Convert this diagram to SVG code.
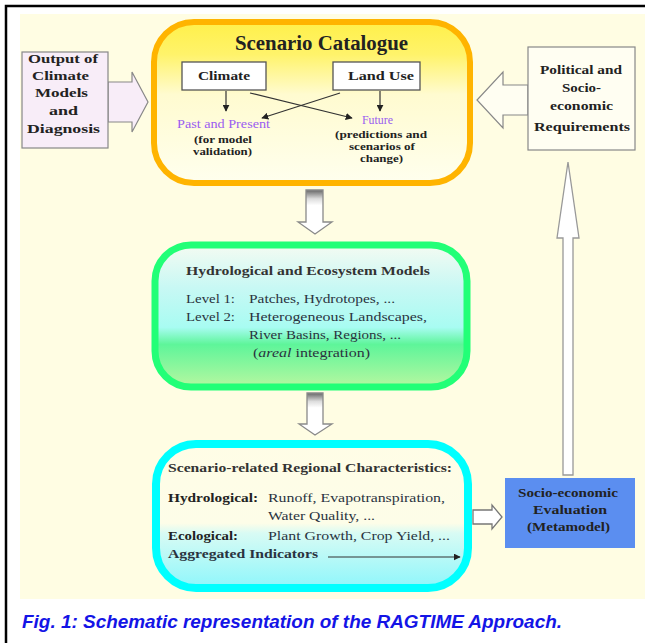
<svg xmlns="http://www.w3.org/2000/svg" width="645" height="643" viewBox="0 0 645 643">
<defs>
<style>
.s{font-family:"Liberation Serif","DejaVu Serif",serif;}
.b{font-weight:bold;}
.m{font-size:13px;fill:#2a3340;}
.w{font-size:12.5px;font-weight:bold;fill:#222;}
.ws{font-size:10.5px;font-weight:bold;fill:#222;}
.p{font-size:12px;fill:#9a5cf0;}
.ln{stroke:#333;stroke-width:1.2;fill:none;}
.box{fill:#fff;stroke:#555;stroke-width:1.3;}
.darr{stroke:#8a8a8a;stroke-width:1.3;}
</style>
<linearGradient id="gY" x1="0" y1="0" x2="0" y2="1">
<stop offset="0" stop-color="#fff04a"/>
<stop offset="0.2" stop-color="#fff36a"/>
<stop offset="0.45" stop-color="#fffbd0"/>
<stop offset="1" stop-color="#ffffee"/>
</linearGradient>
<linearGradient id="gG" x1="0" y1="0" x2="0" y2="1">
<stop offset="0" stop-color="#f4fbf2"/>
<stop offset="0.3" stop-color="#c8f8f4"/>
<stop offset="0.58" stop-color="#a8fcf2"/>
<stop offset="0.7" stop-color="#5ef59a"/>
<stop offset="1" stop-color="#b6f7a0"/>
</linearGradient>
<linearGradient id="gC" x1="0" y1="0" x2="0" y2="1">
<stop offset="0" stop-color="#fffde6"/>
<stop offset="0.55" stop-color="#fdfde8"/>
<stop offset="0.62" stop-color="#d8fbf4"/>
<stop offset="1" stop-color="#8ef6fb"/>
</linearGradient>
<linearGradient id="gA" x1="0" y1="0" x2="0" y2="1">
<stop offset="0" stop-color="#666"/>
<stop offset="0.2" stop-color="#ddd"/>
<stop offset="0.35" stop-color="#fff"/>
<stop offset="1" stop-color="#fff"/>
</linearGradient>
<marker id="ah" viewBox="0 0 10 10" refX="9" refY="5" markerWidth="7" markerHeight="7" orient="auto" markerUnits="userSpaceOnUse">
<path d="M0,0 L10,5 L0,10 z" fill="#222"/>
</marker>
</defs>

<rect x="0" y="0" width="645" height="643" fill="#fff"/>
<rect x="6" y="6" width="660" height="660" fill="none" stroke="#000" stroke-width="2.5"/>
<rect x="20" y="14" width="625" height="585" fill="#fffde3"/>

<g id="connectors">
<polygon points="108,82 132,82 132,72 148,102 132,132 132,122 108,122" fill="#f8edf8" stroke="#888" stroke-width="1.2"/>
<polygon points="528,85 503,85 503,72 477,100 503,128 503,115 528,115" fill="#fffef2" stroke="#888" stroke-width="1.2"/>
<polygon class="darr" points="306,190 323,190 323,222 332,222 315,234 298,222 306,222" fill="url(#gA)"/>
<polygon class="darr" points="307,393 323,393 323,424 332,424 315,435 299,424 307,424" fill="url(#gA)"/>
<polygon points="473,510 492,510 492,505 502,517 492,529 492,524 473,524" fill="#fff" stroke="#777" stroke-width="1.3"/>
<polygon points="563,475 563,238 557,238 568,162 579,238 573,238 573,475" fill="#fff" stroke="#999" stroke-width="1.3"/>
</g>

<g id="output-climate">
<rect x="22" y="52" width="86" height="96" fill="#f8edf8" stroke="#888" stroke-width="1.2"/>
<text class="s w" x="28" y="63" textLength="70" lengthAdjust="spacingAndGlyphs">Output of</text>
<text class="s w" x="32" y="80" textLength="57" lengthAdjust="spacingAndGlyphs">Climate</text>
<text class="s w" x="35" y="97" textLength="53" lengthAdjust="spacingAndGlyphs">Models</text>
<text class="s w" x="49" y="115" textLength="29" lengthAdjust="spacingAndGlyphs">and</text>
<text class="s w" x="27" y="133" textLength="73" lengthAdjust="spacingAndGlyphs">Diagnosis</text>
</g>

<g id="political">
<rect x="528" y="47" width="107" height="103" fill="#fffef2" stroke="#888" stroke-width="1.2"/>
<text class="s w" x="540" y="74" textLength="82" lengthAdjust="spacingAndGlyphs">Political and</text>
<text class="s w" x="562" y="92" textLength="39" lengthAdjust="spacingAndGlyphs">Socio-</text>
<text class="s w" x="550" y="110" textLength="63" lengthAdjust="spacingAndGlyphs">economic</text>
<text class="s w" x="534" y="131" textLength="96" lengthAdjust="spacingAndGlyphs">Requirements</text>
</g>

<g id="scenario-catalogue">
<rect x="154" y="22" width="316" height="161" rx="40" fill="url(#gY)" stroke="#ffb400" stroke-width="6"/>
<text class="s b" x="235" y="50" font-size="20" fill="#222" textLength="173" lengthAdjust="spacingAndGlyphs">Scenario Catalogue</text>
<rect class="box" x="182" y="62" width="84" height="28"/>
<text class="s b" x="198" y="80" font-size="13" fill="#222" textLength="52" lengthAdjust="spacingAndGlyphs">Climate</text>
<rect class="box" x="333" y="62" width="87" height="28"/>
<text class="s b" x="348" y="80" font-size="13" fill="#222" textLength="66" lengthAdjust="spacingAndGlyphs">Land Use</text>
<line class="ln" x1="226" y1="91" x2="226" y2="111" marker-end="url(#ah)"/>
<line class="ln" x1="380" y1="91" x2="380" y2="111" marker-end="url(#ah)"/>
<line class="ln" x1="250" y1="93" x2="352" y2="118" marker-end="url(#ah)"/>
<line class="ln" x1="340" y1="93" x2="262" y2="118" marker-end="url(#ah)"/>
<text class="s p" x="177" y="128" textLength="93" lengthAdjust="spacingAndGlyphs">Past and Present</text>
<text class="s ws" x="194" y="143" textLength="58" lengthAdjust="spacingAndGlyphs">(for model</text>
<text class="s ws" x="193" y="155" textLength="59" lengthAdjust="spacingAndGlyphs">validation)</text>
<text class="s p" x="362" y="124" textLength="31" lengthAdjust="spacingAndGlyphs">Future</text>
<text class="s ws" x="335" y="138" textLength="92" lengthAdjust="spacingAndGlyphs">(predictions and</text>
<text class="s ws" x="349" y="150" textLength="66" lengthAdjust="spacingAndGlyphs">scenarios of</text>
<text class="s ws" x="360" y="162" textLength="43" lengthAdjust="spacingAndGlyphs">change)</text>
</g>

<g id="hydro-models">
<rect x="155" y="245" width="312" height="142" rx="36" fill="url(#gG)" stroke="#22ff77" stroke-width="7"/>
<text class="s b" x="186" y="275" font-size="13" fill="#333" textLength="244" lengthAdjust="spacingAndGlyphs">Hydrological and Ecosystem Models</text>
<text class="s m" x="186" y="303" textLength="49" lengthAdjust="spacingAndGlyphs">Level 1:</text>
<text class="s m" x="249" y="303" textLength="146" lengthAdjust="spacingAndGlyphs">Patches, Hydrotopes, ...</text>
<text class="s m" x="186" y="321" textLength="49" lengthAdjust="spacingAndGlyphs">Level 2:</text>
<text class="s m" x="249" y="321" textLength="178" lengthAdjust="spacingAndGlyphs">Heterogeneous Landscapes,</text>
<text class="s m" x="249" y="339" textLength="152" lengthAdjust="spacingAndGlyphs">River Basins, Regions, ...</text>
<text class="s m" x="253" y="357" textLength="117" lengthAdjust="spacingAndGlyphs">(<tspan font-style="italic">areal</tspan> integration)</text>
</g>

<g id="regional-characteristics">
<rect x="156" y="444" width="312" height="144" rx="40" fill="url(#gC)" stroke="#00ffff" stroke-width="8"/>
<text class="s b" x="168" y="472" font-size="13" fill="#333" textLength="284" lengthAdjust="spacingAndGlyphs">Scenario-related Regional Characteristics:</text>
<text class="s b" x="168" y="502" font-size="13" fill="#222" textLength="90" lengthAdjust="spacingAndGlyphs">Hydrological:</text>
<text class="s m" x="268" y="502" textLength="177" lengthAdjust="spacingAndGlyphs">Runoff, Evapotranspiration,</text>
<text class="s m" x="268" y="520" textLength="107" lengthAdjust="spacingAndGlyphs">Water Quality, ...</text>
<text class="s b" x="168" y="540" font-size="13" fill="#222" textLength="70" lengthAdjust="spacingAndGlyphs">Ecological:</text>
<text class="s m" x="268" y="540" textLength="182" lengthAdjust="spacingAndGlyphs">Plant Growth, Crop Yield, ...</text>
<text class="s b" x="168" y="558" font-size="13" fill="#2a3340" textLength="150" lengthAdjust="spacingAndGlyphs">Aggregated Indicators</text>
<line class="ln" x1="328" y1="557" x2="460" y2="557" marker-end="url(#ah)"/>
</g>

<g id="socio-economic">
<rect x="505" y="478" width="130" height="70" fill="#5b8ef0"/>
<text class="s w" x="518" y="497" fill="#cfdcff" textLength="100" lengthAdjust="spacingAndGlyphs">Socio-economic</text>
<text class="s w" x="533" y="514" fill="#cfdcff" textLength="74" lengthAdjust="spacingAndGlyphs">Evaluation</text>
<text class="s w" x="527" y="531" fill="#cfdcff" textLength="83" lengthAdjust="spacingAndGlyphs">(Metamodel)</text>
</g>

<text x="22" y="628" font-family="'Liberation Sans',Arial,sans-serif" font-weight="bold" font-style="italic" font-size="17.5" fill="#1414e6" textLength="540" lengthAdjust="spacingAndGlyphs">Fig. 1: Schematic representation of the RAGTIME Approach.</text>
</svg>
